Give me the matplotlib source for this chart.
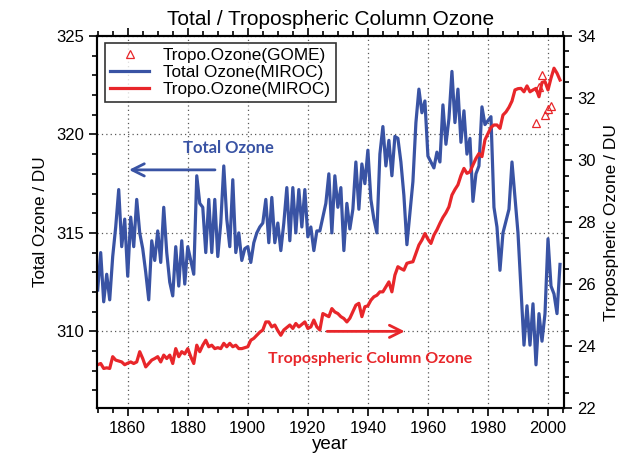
import numpy as np
import matplotlib
matplotlib.use("Agg")
import matplotlib.pyplot as plt
from matplotlib.ticker import MultipleLocator

## data

years = list(range(1850, 2005))

# total column ozone from MIROC (DU, left axis)
total_ozone = [
    312.1, 314.0, 311.5, 312.9, 311.6, 313.8, 315.3, 317.2, 314.3, 315.7,   # 1850s
    312.8, 315.8, 314.3, 316.7, 315.0, 314.2, 313.0, 311.6, 314.6, 313.6,   # 1860s
    315.1, 313.5, 316.3, 314.0, 312.5, 311.8, 314.3, 312.3, 314.6, 312.4,   # 1870s
    314.3, 313.6, 312.9, 317.9, 316.5, 316.3, 314.0, 316.7, 314.0, 316.7,   # 1880s
    313.8, 315.5, 318.4, 315.7, 314.3, 317.7, 314.0, 315.0, 313.6, 314.2,   # 1890s
    314.3, 313.5, 314.5, 315.0, 315.3, 315.5, 316.7, 314.5, 316.8, 314.5,   # 1900s
    315.5, 314.1, 315.5, 317.3, 314.6, 317.3, 315.0, 317.2, 315.3, 317.2,   # 1910s
    314.8, 315.3, 314.1, 315.1, 315.1, 315.8, 316.5, 318.0, 315.0, 317.9,   # 1920s
    316.3, 317.3, 314.1, 316.5, 315.2, 316.2, 318.6, 316.2, 318.5, 317.5,   # 1930s
    319.2, 316.7, 315.7, 315.0, 319.0, 320.4, 318.4, 319.7, 317.9, 319.9,   # 1940s
    319.8, 318.6, 316.9, 314.4, 316.0, 317.6, 320.6, 322.3, 321.1, 321.7,   # 1950s
    318.9, 318.6, 318.3, 319.1, 318.6, 321.5, 319.5, 320.8, 323.2, 320.6,   # 1960s
    322.3, 319.6, 321.2, 319.0, 319.8, 316.6, 318.0, 318.4, 321.4, 320.5,   # 1970s
    320.7, 320.9, 316.3, 315.3, 313.1, 315.0, 315.6, 316.2, 318.6, 316.8,   # 1980s
    315.0, 312.1, 309.3, 311.3, 309.3, 311.4, 308.3, 310.9, 309.5, 310.9,   # 1990s
    314.7, 312.3, 311.9, 310.9, 313.4,                                      # 2000s
]

# tropospheric column ozone from MIROC (DU, right axis)
tropo_ozone = [
    23.40, 23.44, 23.28, 23.30, 23.28, 23.66, 23.55, 23.52, 23.49, 23.40,
    23.45, 23.49, 23.44, 23.49, 23.82, 23.60, 23.33, 23.44, 23.55, 23.60,
    23.66, 23.49, 23.71, 23.60, 23.71, 23.44, 23.92, 23.66, 23.82, 23.75,
    23.92, 23.66, 23.44, 24.03, 23.82, 24.03, 24.19, 23.98, 24.03, 23.92,
    23.95, 23.92, 24.09, 23.98, 24.09, 23.98, 24.03, 23.92, 23.92, 23.95,
    23.98, 24.19, 24.25, 24.35, 24.45, 24.52, 24.78, 24.78, 24.62, 24.68,
    24.50, 24.35, 24.52, 24.60, 24.68, 24.57, 24.73, 24.62, 24.70, 24.78,
    24.57, 24.62, 24.84, 24.62, 24.52, 25.05, 25.00, 24.95, 25.21, 25.10,
    25.05, 24.95, 24.89, 24.78, 24.90, 25.11, 25.32, 25.38, 24.95, 25.27,
    25.30, 25.48, 25.59, 25.64, 25.75, 25.75, 25.91, 26.07, 25.75, 26.29,
    26.56, 26.50, 26.45, 26.67, 26.70, 26.72, 26.99, 27.26, 27.42, 27.63,
    27.45, 27.31, 27.58, 27.75, 27.96, 28.15, 28.30, 28.49, 28.87, 29.05,
    29.20, 29.50, 29.73, 29.57, 29.62, 29.84, 30.05, 30.21, 30.11, 30.65,
    30.85, 31.05, 31.13, 31.13, 31.02, 31.45, 31.55, 31.70, 31.90, 32.26,
    32.30, 32.31, 32.20, 32.39, 32.20, 32.26, 32.31, 32.04, 32.50, 32.53,
    32.26, 32.64, 32.96, 32.80, 32.58,
]

# GOME satellite tropospheric ozone (DU, right axis)
gome_years = [1996, 1997, 1998, 1999, 2000, 2001]
gome_ozone = [31.2, 32.35, 32.75, 31.45, 31.65, 31.75]

blue = "#3953a4"
red = "#e8262a"

plt.rcParams["font.family"] = ["Liberation Sans", "DejaVu Sans"]

fig = plt.figure(figsize=(6.43, 4.67), dpi=100)
ax = fig.add_axes([0.151, 0.126, 0.726, 0.797])
ax2 = ax.twinx()

# total ozone on the left axis
l_tot, = ax.plot(years, total_ozone, color=blue, lw=2.3, label="Total Ozone(MIROC)")
ax.set_xlim(1849.8, 2005.3)
ax.set_ylim(306.1, 325)
ax.xaxis.set_major_locator(MultipleLocator(20))
ax.xaxis.set_minor_locator(MultipleLocator(5))
ax.yaxis.set_major_locator(MultipleLocator(5))
ax.yaxis.set_minor_locator(MultipleLocator(1))
ax.grid(True, which="major", linestyle=(0, (1, 2.5)), color="0.35", lw=0.9)
ax.tick_params(which="both", direction="out", top=True, labelsize=12, width=1.2)
ax.tick_params(which="major", length=6)
ax.tick_params(which="minor", length=3.5)
ax.set_xlabel("year", fontsize=13.5, labelpad=0)
ax.set_ylabel("Total Ozone / DU", fontsize=12.3, labelpad=6)

# tropospheric ozone on the right axis
l_tro, = ax2.plot(years, tropo_ozone, color=red, lw=2.3, label="Tropo.Ozone(MIROC)")
l_gome, = ax2.plot(gome_years, gome_ozone, linestyle="none", marker="^", ms=5.5,
                   mfc="none", mec=red, mew=0.9, label="Tropo.Ozone(GOME)")
ax2.set_ylim(22, 34)
ax2.yaxis.set_major_locator(MultipleLocator(2))
ax2.yaxis.set_minor_locator(MultipleLocator(0.5))
ax2.tick_params(which="both", direction="out", labelsize=12, width=1.2)
ax2.tick_params(which="major", length=6)
ax2.tick_params(which="minor", length=3.5)
ax2.set_ylabel("Tropospheric Ozone / DU", fontsize=12.5, labelpad=6)

for a in (ax, ax2):
    for s in a.spines.values():
        s.set_linewidth(1.5)

ax.set_title("Total / Tropospheric Column Ozone", fontsize=15, pad=8)

# annotations with arrows
ax.text(1893.7, 319.3, "Total Ozone", color=blue, fontsize=12, fontweight="bold",
        family="Lato", ha="center", va="center")
ax.annotate("", xy=(1859.5, 318.2), xytext=(1890, 318.2),
            arrowprops=dict(arrowstyle="->", color=blue, lw=2, mutation_scale=22))
ax.text(1940.7, 308.6, "Tropospheric Column Ozone", color=red, fontsize=11.5,
        fontweight="bold", family="Lato", ha="center", va="center")
ax.annotate("", xy=(1953.2, 310.0), xytext=(1925.5, 310.0),
            arrowprops=dict(arrowstyle="->", color=red, lw=2, mutation_scale=22))

leg = ax2.legend(handles=[l_gome, l_tot, l_tro], loc="upper left",
                 bbox_to_anchor=(0.017, 0.982), fontsize=12.3, frameon=True,
                 fancybox=False, handlelength=2.3, borderpad=0.3,
                 labelspacing=0.12, handletextpad=0.8, borderaxespad=0)
leg.get_frame().set_edgecolor("black")
leg.get_frame().set_linewidth(1.2)

fig.savefig("out.png", dpi=100)
